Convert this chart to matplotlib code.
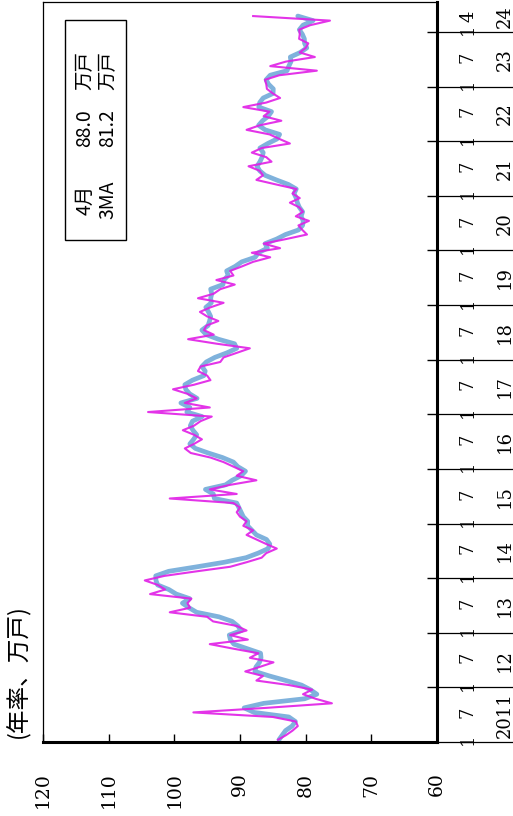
import matplotlib
matplotlib.use("Agg")
import matplotlib.pyplot as plt
import matplotlib.transforms as mtransforms
import pandas as pd
from matplotlib.patches import Rectangle

W, H = 513, 816

# housing starts, annual rate (万戸), one value per month
prior_2010 = [84.5, 83.5]  # Nov, Dec 2010, only used for the 3MA
starts_2011 = [84.2, 83.0, 82.0, 81.2, 81.5, 85.0, 97.1, 86.0, 76.0, 78.5, 80.4, 79.0]
starts_2012 = [82.5, 87.5, 86.5, 89.2, 87.0, 84.9, 88.5, 87.2, 91.0, 94.6, 88.8, 91.5]
starts_2013 = [89.0, 90.5, 94.1, 95.0, 100.7, 97.6, 98.0, 97.4, 103.7, 101.4, 102.5, 104.5]
starts_2014 = [101.5, 96.6, 91.5, 89.0, 86.7, 86.0, 84.4, 86.0, 87.5, 89.0, 88.0, 89.5]
starts_2015 = [89.0, 90.0, 90.5, 90.0, 91.0, 100.7, 90.5, 94.6, 91.5, 87.5, 90.5, 89.5]
starts_2016 = [91.0, 92.5, 94.5, 97.5, 98.4, 97.0, 95.8, 97.0, 98.7, 97.0, 96.0, 94.3]
starts_2017 = [104.0, 94.6, 98.4, 96.6, 98.0, 100.2, 97.0, 94.5, 95.0, 96.4, 96.0, 93.0]
starts_2018 = [92.5, 90.5, 88.5, 93.5, 97.9, 94.0, 95.5, 95.1, 93.3, 95.0, 96.1, 94.5]
starts_2019 = [92.5, 96.4, 94.0, 93.0, 90.8, 93.6, 91.0, 91.5, 89.7, 88.0, 85.4, 88.2]
starts_2020 = [83.9, 86.4, 83.0, 79.8, 80.5, 81.1, 79.5, 81.5, 80.4, 81.0, 82.4, 80.9]
starts_2021 = [82.0, 81.4, 84.5, 87.5, 86.5, 87.0, 88.7, 85.2, 86.0, 88.2, 86.7, 82.4]
starts_2022 = [84.0, 85.5, 89.0, 87.0, 83.7, 86.4, 85.5, 89.5, 86.0, 83.9, 85.0, 85.9]
starts_2023 = [86.0, 86.2, 84.0, 78.3, 85.4, 83.0, 78.6, 80.9, 80.0, 79.6, 81.0, 80.9]
starts_2024 = [81.0, 79.3, 76.3, 88.0]

year_labels = ["2011", "12", "13", "14", "15", "16", "17", "18", "19", "20",
               "21", "22", "23", "24"]
value_ticks = [120, 110, 100, 90, 80, 70, 60]
legend_rows = [("4月", "88.0", "万戸"), ("3MA", "81.2", "万戸")]

monthly = (starts_2011 + starts_2012 + starts_2013 + starts_2014 + starts_2015
           + starts_2016 + starts_2017 + starts_2018 + starts_2019 + starts_2020
           + starts_2021 + starts_2022 + starts_2023 + starts_2024)
ma3 = pd.Series(prior_2010 + monthly).rolling(3).mean().iloc[2:].to_numpy()
t = [m + 0.5 for m in range(len(monthly))]

fig = plt.figure(figsize=(W / 100, H / 100), dpi=100)
fig.patch.set_facecolor("white")

# plot area, drawn turned on its side: values run right to left, time upward
ax = fig.add_axes([43 / W, 74 / H, (437 - 43) / W, (814.5 - 74) / H])
ax.plot(ma3, t, color="#7fb2dc", lw=3.4, solid_capstyle="round", zorder=2)
ax.plot(monthly, t, color="#e01ee6", lw=1.5, alpha=0.9, zorder=3)
ax.set_xlim(120, 60)
ax.set_ylim(0, 162.7)

ax.set_xticks(value_ticks)
ax.set_xticklabels([str(v) for v in value_ticks], rotation=90,
                   fontfamily="DejaVu Serif", fontsize=13.5)
ax.tick_params(axis="x", direction="in", length=6, width=1, pad=22,
               bottom=True, top=False)
ax.set_yticks(range(0, 157, 12))
ax.tick_params(axis="y", direction="in", length=7, width=1, left=False,
               right=True, labelleft=False, labelright=False)

for side in ["left", "top"]:
    ax.spines[side].set_linewidth(0.9)
for side in ["bottom", "right"]:
    ax.spines[side].set_linewidth(2.2)

# time "table" to the right of the plot
trans = mtransforms.blended_transform_factory(fig.transFigure, ax.transData)
for k, label in enumerate(year_labels):
    start = 12 * k
    ax.plot([437 / W, 1.0], [start, start], color="black", lw=0.9,
            transform=trans, clip_on=False)
    ax.text(468 / W, start + 0.5, "1", rotation=90, ha="center", va="center",
            family="DejaVu Serif", fontsize=13, transform=trans)
    if start + 6 < len(monthly):
        ax.text(468 / W, start + 6.5, "7", rotation=90, ha="center",
                va="center", family="DejaVu Serif", fontsize=13,
                transform=trans)
        mid = start + 6
    else:
        ax.text(468 / W, len(monthly) - 0.5, str(len(monthly) - start),
                rotation=90, ha="center", va="center",
                family="DejaVu Serif", fontsize=13, transform=trans)
        mid = (start + 162.7) / 2
    ax.text(505 / W, mid, label, rotation=90, ha="center", va="center",
            family="DejaVu Serif", fontsize=13, transform=trans)

fig.text(18 / W, 1 - 671 / H, "(年率、万戸)", rotation=90, ha="center",
         va="center", family=["Noto Sans CJK JP", "DejaVu Sans"], fontsize=17)

# legend box
fig.patches.append(Rectangle((65 / W, 1 - 240 / H), 61 / W, 220 / H,
                             fill=False, lw=1, ec="black",
                             transform=fig.transFigure))
for x_px, row in zip([85, 108], legend_rows):
    for y_px, piece in zip([200, 128, 70], row):
        fig.text(x_px / W, 1 - y_px / H, piece, rotation=90, ha="center",
                 va="center", family=["Noto Sans CJK JP", "DejaVu Sans"],
                 fontsize=14)

fig.savefig("out.png", dpi=100)
